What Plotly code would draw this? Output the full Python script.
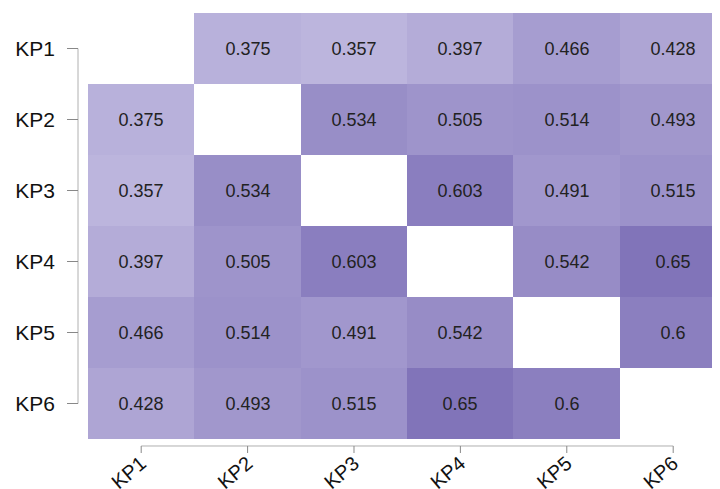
import plotly.graph_objects as go

labels = ["KP1", "KP2", "KP3", "KP4", "KP5", "KP6"]
row_KP1 = [None, 0.375, 0.357, 0.397, 0.466, 0.428]
row_KP2 = [0.375, None, 0.534, 0.505, 0.514, 0.493]
row_KP3 = [0.357, 0.534, None, 0.603, 0.491, 0.515]
row_KP4 = [0.397, 0.505, 0.603, None, 0.542, 0.65]
row_KP5 = [0.466, 0.514, 0.491, 0.542, None, 0.6]
row_KP6 = [0.428, 0.493, 0.515, 0.65, 0.6, None]

z = [row_KP1, row_KP2, row_KP3, row_KP4, row_KP5, row_KP6]
text = [["" if v is None else f"{v:g}" for v in row] for row in z]

font_fam = "Liberation Sans, Arial, sans-serif"

fig = go.Figure(go.Heatmap(
    x=labels, y=labels, z=z, text=text, texttemplate="%{text}",
    textfont=dict(family=font_fam, size=18, color="#222222"),
    colorscale=[[0, "#bcb5dd"], [1, "#8174b9"]],
    zmin=0.357, zmax=0.65, showscale=False, hoverongaps=False,
))

axis_col = "#b0b0b0"
shapes = []
# left axis line and ticks
shapes.append(dict(type="line", xref="paper", yref="y", x0=-0.0158, x1=-0.0158, y0=0, y1=5,
                   line=dict(color=axis_col, width=1)))
for i in range(6):
    shapes.append(dict(type="line", xref="paper", yref="y", x0=-0.0332, x1=-0.0158, y0=i, y1=i,
                       line=dict(color="#888888", width=1)))
# bottom axis line and ticks
shapes.append(dict(type="line", xref="x", yref="paper", x0=0, x1=5, y0=-0.0164, y1=-0.0164,
                   line=dict(color=axis_col, width=1)))
for i in range(6):
    shapes.append(dict(type="line", xref="x", yref="paper", x0=i, x1=i, y0=-0.0164, y1=-0.0329,
                       line=dict(color="#888888", width=1)))

fig.update_layout(
    width=720, height=489,
    margin=dict(l=80, r=8, t=5, b=58),
    paper_bgcolor="white", plot_bgcolor="white",
    shapes=shapes,
    xaxis=dict(range=[-0.5, 5.44], showgrid=False, zeroline=False, showline=False, ticks="",
               tickangle=-40, ticklabelstandoff=8, automargin=False,
               tickfont=dict(family=font_fam, size=20, color="#111111")),
    yaxis=dict(range=[5.5, -0.5], showgrid=False, zeroline=False, showline=False, ticks="",
               ticklabelstandoff=32, automargin=False,
               tickfont=dict(family=font_fam, size=21, color="#111111")),
)

fig.write_html("out.html")
